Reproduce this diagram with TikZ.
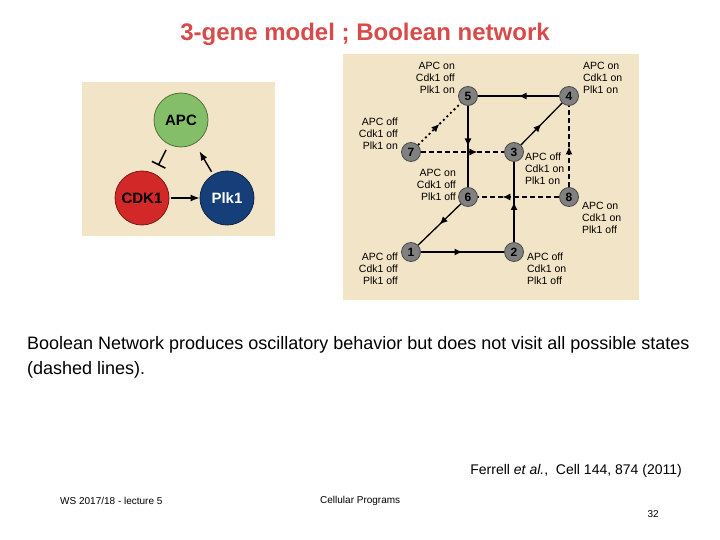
\documentclass[tikz,border=0pt]{standalone}
\usepackage{fontspec}
\setmainfont{Liberation Sans}
\usetikzlibrary{arrows.meta,decorations.markings}

\definecolor{beige}{RGB}{242,228,198}
\definecolor{titlered}{RGB}{215,75,75}
\definecolor{apcgreen}{RGB}{132,190,104}
\definecolor{cdkred}{RGB}{210,40,40}
\definecolor{plkblue}{RGB}{22,62,120}
\definecolor{stategray}{RGB}{128,128,128}
\definecolor{stateedge}{RGB}{75,75,75}

\tikzset{
    panel/.style = {fill=beige, draw=none},
    gene/.style = {circle, minimum size=54pt, inner sep=0pt, line width=0.8pt,
        font=\fontsize{15}{15}\selectfont\bfseries},
    state/.style = {circle, fill=stategray, draw=stateedge, line width=0.8pt,
        minimum size=19pt, inner sep=0pt, font=\fontsize{12}{12}\selectfont\bfseries},
    lbl/.style = {font=\fontsize{10.5}{12}\selectfont, inner sep=0pt},
    trans/.style = {line width=1.3pt, postaction={decorate},
        decoration={markings, mark=at position #1 with {\arrow{Latex[length=8pt,width=7pt]}}}},
    trans/.default = 0.5,
    spont/.style = {line width=1.6pt, dash pattern=on 5pt off 3pt},
    dots/.style = {line width=1.8pt, dash pattern=on 2pt off 3pt},
    act/.style = {line width=1.4pt, -{Latex[length=9pt,width=7pt]}},
    inhib/.style = {line width=1.4pt, -{Bar[width=15pt,line width=1.6pt]}}
}

\begin{document}
\begin{tikzpicture}[x=1pt,y=-1pt]
    \useasboundingbox[fill=white] (0,0) rectangle (720,540);

    % title
    \node[text=titlered, font=\fontsize{24}{24}\selectfont\bfseries] (title) at (365,34) {3-gene model ; Boolean network};

    % left panel: the three genes
    \fill[panel] (82,82) rectangle (275,236);
    \node[gene, fill=apcgreen, draw=apcgreen!60!black] (apc) at (181,120) {APC};
    \node[gene, fill=cdkred, draw=cdkred!60!black] (cdk) at (142,198) {CDK1};
    \node[gene, fill=plkblue, draw=plkblue!60!black, text=white] (plk) at (227,198) {Plk1};
    \draw[inhib, shorten <=6pt, shorten >=9pt] (apc) -- (cdk);
    \draw[act, shorten <=2pt] (cdk) -- (plk);
    \draw[act, shorten <=3pt, shorten >=9pt] (plk) -- (apc);

    % right panel: state cube
    \fill[panel] (343,54) rectangle (639,300);
    \node[state] (s5) at (468,96) {5};
    \node[state] (s4) at (569,96) {4};
    \node[state] (s7) at (411,152) {7};
    \node[state] (s3) at (514,152) {3};
    \node[state] (s6) at (468,197) {6};
    \node[state] (s8) at (569,197) {8};
    \node[state] (s1) at (411,252) {1};
    \node[state] (s2) at (514,252) {2};

    \draw[trans] (s4) -- (s5);
    \draw[trans] (s5) -- (s6);
    \draw[trans] (s6) -- (s1);
    \draw[trans] (s1) -- (s2);
    \draw[trans] (s2) -- (s3);
    \draw[trans] (s3) -- (s4);
    \draw[trans, dots] (s7) -- (s5);
    \draw[trans=0.68, spont] (s7) -- (s3);
    \draw[trans, spont] (s8) -- (s4);
    \draw[trans=0.7, spont] (s8) -- (s6);

    % state labels
    \node[lbl, align=right, anchor=south east] (t5) at ([xshift=-3pt,yshift=2pt]s5.west) {APC on\\Cdk1 off\\Plk1 on};
    \node[lbl, align=left, anchor=south west] (t4) at ([xshift=4pt,yshift=2pt]s4.east) {APC on\\Cdk1 on\\Plk1 on};
    \node[lbl, align=right, anchor=south east] (t7) at ([xshift=-3pt,yshift=2pt]s7.west) {APC off\\Cdk1 off\\Plk1 on};
    \node[lbl, align=left, anchor=north west] (t3) at ([xshift=1pt,yshift=-1pt]s3.east) {APC off\\Cdk1 on\\Plk1 on};
    \node[lbl, align=right, anchor=south east] (t6) at ([xshift=-2pt,yshift=-4pt]s6.west) {APC on\\Cdk1 off\\Plk1 off};
    \node[lbl, align=left, anchor=north west] (t8) at ([xshift=3pt,yshift=-5pt]s8.east) {APC on\\Cdk1 on\\Plk1 off};
    \node[lbl, align=right, anchor=north east] (t1) at ([xshift=-3pt,yshift=-1pt]s1.west) {APC off\\Cdk1 off\\Plk1 off};
    \node[lbl, align=left, anchor=north west] (t2) at ([xshift=3pt,yshift=-1pt]s2.east) {APC off\\Cdk1 on\\Plk1 off};

    % caption and footer
    \node[anchor=north west, align=left, inner sep=0pt, font=\fontsize{18}{25}\selectfont] (caption) at (27,336)
        {Boolean Network produces oscillatory behavior but does not visit all possible states\\(dashed lines).};
    \node[anchor=east, inner sep=0pt, font=\fontsize{14}{14}\selectfont] (ref) at (682,471) {Ferrell \textit{et al.}, \ Cell 144, 874 (2011)};
    \node[anchor=west, inner sep=0pt, font=\fontsize{10}{10}\selectfont] (lecture) at (60,501) {WS 2017/18 - lecture 5};
    \node[anchor=west, inner sep=0pt, font=\fontsize{10}{10}\selectfont] (course) at (320,501) {Cellular Programs};
    \node[anchor=east, inner sep=0pt, font=\fontsize{10}{10}\selectfont] (page) at (659,514) {32};
\end{tikzpicture}
\end{document}
